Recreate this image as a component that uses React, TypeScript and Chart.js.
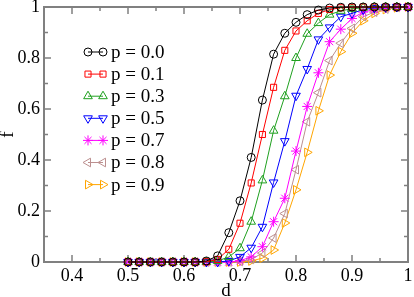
import React, { useEffect, useRef } from 'react';
import { Chart, registerables } from 'chart.js';
import { drawPoint } from 'chart.js/helpers';

Chart.register(...registerables);

// x positions (d)
const dValues = [0.50, 0.52, 0.54, 0.56, 0.58, 0.60, 0.62, 0.64, 0.66, 0.68, 0.70, 0.72, 0.74, 0.76, 0.78, 0.80, 0.82, 0.84, 0.86, 0.88, 0.90, 0.92, 0.94, 0.96, 0.98, 1.00];

// f values per series
const fP00 = [0, 0, 0, 0, 0, 0, 0, 0.004, 0.024, 0.115, 0.24, 0.41, 0.635, 0.815, 0.897, 0.94, 0.97, 0.988, 0.996, 0.999, 1, 1, 1, 1, 1, 1];
const fP01 = [0, 0, 0, 0, 0, 0, 0, 0.001, 0.01, 0.05, 0.152, 0.31, 0.50, 0.685, 0.83, 0.906, 0.946, 0.975, 0.99, 0.997, 0.999, 1, 1, 1, 1, 1];
const fP03 = [0, 0, 0, 0, 0, 0, 0, 0, 0.004, 0.02, 0.054, 0.158, 0.32, 0.515, 0.65, 0.80, 0.895, 0.937, 0.97, 0.985, 0.993, 0.997, 1, 1, 1, 1];
const fP05 = [0, 0, 0, 0, 0, 0, 0, 0, 0, 0.004, 0.02, 0.056, 0.138, 0.312, 0.474, 0.652, 0.757, 0.873, 0.92, 0.962, 0.975, 0.99, 0.996, 0.999, 1, 1];
const fP07 = [0, 0, 0, 0, 0, 0, 0, 0, 0, 0, 0.005, 0.02, 0.06, 0.158, 0.25, 0.435, 0.61, 0.742, 0.864, 0.913, 0.955, 0.98, 0.99, 0.997, 1, 1];
const fP08 = [0, 0, 0, 0, 0, 0, 0, 0, 0, 0, 0.002, 0.01, 0.035, 0.094, 0.19, 0.362, 0.55, 0.664, 0.79, 0.858, 0.916, 0.962, 0.98, 0.992, 0.998, 1];
const fP09 = [0, 0, 0, 0, 0, 0, 0, 0, 0, 0, 0, 0.004, 0.015, 0.047, 0.153, 0.283, 0.43, 0.593, 0.733, 0.825, 0.897, 0.946, 0.975, 0.99, 0.997, 1];

const seriesValues = [fP00, fP01, fP03, fP05, fP07, fP08, fP09];
const seriesLabels = ['p = 0.0', 'p = 0.1', 'p = 0.3', 'p = 0.5', 'p = 0.7', 'p = 0.8', 'p = 0.9'];
const seriesColors = ['#000000', '#ff0000', '#1fa01f', '#0000ff', '#ff00ff', '#bc8f8f', '#ffa500'];
const seriesPointStyles = ['circle', 'rect', 'triangle', 'triangle', 'star', 'triangle', 'triangle'];
const seriesRotations = [0, 0, 0, 180, 0, 270, 90];
const seriesRadii = [4, 4.3, 5, 5, 5, 5, 5];

// axis ticks
const xMajorTicks = [0.4, 0.5, 0.6, 0.7, 0.8, 0.9, 1.0];
const xMinorTicks = [0.45, 0.55, 0.65, 0.75, 0.85, 0.95];
const xTickLabels = ['0.4', '0.5', '0.6', '0.7', '0.8', '0.9', '1'];
const yMajorTicks = [0, 0.2, 0.4, 0.6, 0.8, 1.0];
const yMinorTicks = [0.1, 0.3, 0.5, 0.7, 0.9];
const yTickLabels = ['0', '0.2', '0.4', '0.6', '0.8', '1'];

const SERIF = "'Liberation Serif', 'DejaVu Serif', serif";
const AXIS_COLOR = '#808080';

const framePlugin = {
  id: 'frameTicks',
  beforeDatasetsDraw(chart: any) {
    const { ctx, chartArea } = chart;
    const xs = chart.scales.x;
    const ys = chart.scales.y;
    const { left, right, top, bottom } = chartArea;
    ctx.save();
    ctx.strokeStyle = AXIS_COLOR;
    ctx.lineWidth = 2;
    ctx.strokeRect(left, top, right - left, bottom - top);
    ctx.lineWidth = 1.5;
    ctx.beginPath();
    const major = 7;
    const minor = 4;
    xMajorTicks.forEach((v) => {
      const px = xs.getPixelForValue(v);
      ctx.moveTo(px, bottom); ctx.lineTo(px, bottom - major);
      ctx.moveTo(px, top); ctx.lineTo(px, top + major);
    });
    xMinorTicks.forEach((v) => {
      const px = xs.getPixelForValue(v);
      ctx.moveTo(px, bottom); ctx.lineTo(px, bottom - minor);
      ctx.moveTo(px, top); ctx.lineTo(px, top + minor);
    });
    yMajorTicks.forEach((v) => {
      const py = ys.getPixelForValue(v);
      ctx.moveTo(left, py); ctx.lineTo(left + major, py);
      ctx.moveTo(right, py); ctx.lineTo(right - major, py);
    });
    yMinorTicks.forEach((v) => {
      const py = ys.getPixelForValue(v);
      ctx.moveTo(left, py); ctx.lineTo(left + minor, py);
      ctx.moveTo(right, py); ctx.lineTo(right - minor, py);
    });
    ctx.stroke();
    ctx.restore();
  },
};

const legendPlugin = {
  id: 'innerLegend',
  afterDatasetsDraw(chart: any) {
    const { ctx } = chart;
    ctx.save();
    const x1 = 88;
    const x2 = 103;
    const textX = 111;
    const y0 = 52;
    const step = 22.1;
    ctx.font = `19px ${SERIF}`;
    ctx.textBaseline = 'middle';
    ctx.textAlign = 'left';
    seriesLabels.forEach((label, i) => {
      const y = y0 + i * step;
      ctx.strokeStyle = seriesColors[i];
      ctx.lineWidth = 1;
      ctx.beginPath();
      ctx.moveTo(x1, y);
      ctx.lineTo(x2, y);
      ctx.stroke();
      ctx.fillStyle = 'rgba(0,0,0,0)';
      const opts = {
        pointStyle: seriesPointStyles[i],
        rotation: seriesRotations[i],
        radius: seriesRadii[i],
        borderWidth: 1,
      };
      drawPoint(ctx, opts as any, x1, y);
      drawPoint(ctx, opts as any, x2, y);
      ctx.fillStyle = '#000000';
      ctx.fillText(label, textX, y + 1);
    });
    ctx.restore();
  },
};

export default function App() {
  const canvasRef = useRef<HTMLCanvasElement | null>(null);

  useEffect(() => {
    const canvas = canvasRef.current;
    if (!canvas) return;
    const datasets = seriesValues.map((vals, i) => ({
      label: seriesLabels[i],
      data: vals.map((v, j) => ({ x: dValues[j], y: v })),
      borderColor: seriesColors[i],
      backgroundColor: 'rgba(0,0,0,0)',
      borderWidth: 1,
      pointStyle: seriesPointStyles[i] as any,
      rotation: seriesRotations[i],
      pointRadius: seriesRadii[i],
      pointBorderWidth: 1,
      pointBorderColor: seriesColors[i],
      pointBackgroundColor: 'rgba(0,0,0,0)',
      tension: 0,
      fill: false,
      clip: false as any,
    }));

    const chart = new Chart(canvas, {
      type: 'line',
      data: { datasets },
      plugins: [framePlugin, legendPlugin],
      options: {
        responsive: false,
        animation: false,
        devicePixelRatio: 1,
        layout: { padding: { top: 7, right: 6, left: 0, bottom: 0 } },
        plugins: {
          legend: { display: false },
          tooltip: { enabled: false },
        },
        scales: {
          x: {
            type: 'linear',
            min: 0.35,
            max: 1.0,
            grid: { display: false, drawTicks: false },
            border: { display: false },
            afterBuildTicks: (s: any) => {
              s.ticks = xMajorTicks.map((v) => ({ value: v }));
            },
            afterFit: (s: any) => {
              s.height = 35;
              s.paddingLeft = 0;
              s.paddingRight = 0;
            },
            ticks: {
              autoSkip: false,
              maxRotation: 0,
              padding: 3,
              color: '#000000',
              font: { family: SERIF, size: 18 },
              callback: (_v: any, idx: number) => xTickLabels[idx],
            },
            title: {
              display: true,
              text: 'd',
              color: '#000000',
              font: { family: SERIF, size: 19 },
              padding: { top: 0, bottom: -5 },
            },
          },
          y: {
            type: 'linear',
            min: 0,
            max: 1,
            grid: { display: false, drawTicks: false },
            border: { display: false },
            afterBuildTicks: (s: any) => {
              s.ticks = yMajorTicks.map((v) => ({ value: v }));
            },
            afterFit: (s: any) => {
              s.width = 44;
              s.paddingTop = 0;
              s.paddingBottom = 0;
            },
            ticks: {
              autoSkip: false,
              padding: 4,
              color: '#000000',
              font: { family: SERIF, size: 18 },
              callback: (_v: any, idx: number) => yTickLabels[idx],
            },
            title: {
              display: true,
              text: 'f',
              color: '#000000',
              font: { family: SERIF, size: 19 },
              padding: { top: -3, bottom: 0 },
            },
          },
        },
      },
    });
    return () => chart.destroy();
  }, []);

  return (
    <div style={{ position: 'fixed', left: 0, top: 0, width: 414, height: 297, background: '#ffffff' }}>
      <canvas ref={canvasRef} width={414} height={297} style={{ display: 'block', width: 414, height: 297 }} />
    </div>
  );
}
